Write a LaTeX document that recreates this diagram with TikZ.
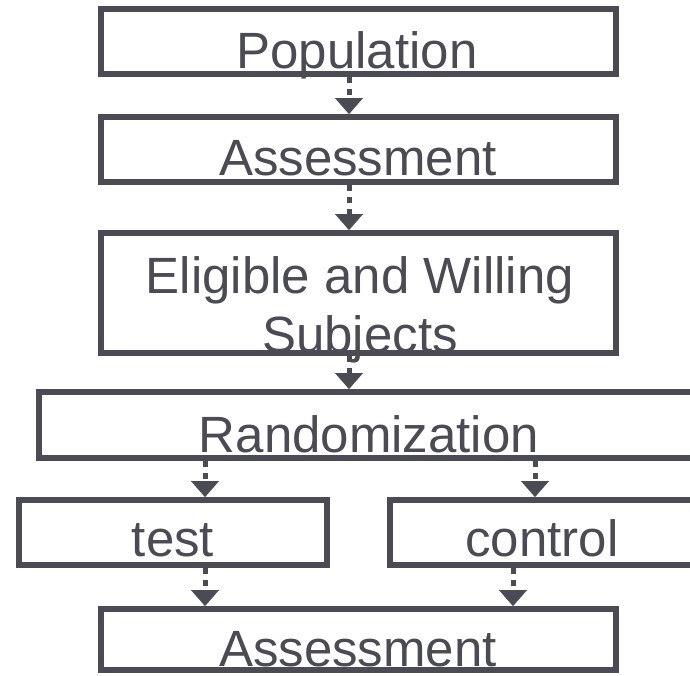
\documentclass[tikz,border=0pt]{standalone}
\usepackage{fontspec}
\setmainfont{Liberation Sans}
\usetikzlibrary{arrows.meta}
\definecolor{ink}{HTML}{4A4B55}
\begin{document}
\begin{tikzpicture}[x=1pt,y=-1pt,
  box/.style={draw=ink, line width=6pt, inner sep=0pt, minimum width=515pt, minimum height=65pt},
  label/.style={anchor=base, inner sep=0pt, text=ink, font=\fontsize{51}{59}\selectfont},
  conn/.style={draw=ink, line width=5pt, dash pattern=on 6pt off 6pt,
    -{Triangle[width=28pt,length=16pt,line width=0.1pt]}}]
\fill[white] (0,0) rectangle (690,675);
\useasboundingbox (0,0) rectangle (690,675);

% boxes
\node[box] (pop)  at (358.5,41.5) {};
\node[box] (as1)  at (358.5,149.5) {};
\node[box, minimum height=120pt] (elig) at (358.5,293) {};
\node[box, minimum width=661pt, minimum height=66pt] (rand) at (369.5,425) {};
\node[box, minimum width=308pt] (test) at (173,532.5) {};
\node[box, minimum width=304pt] (ctrl) at (542,532.5) {};
\node[box, minimum height=61pt] (as2) at (358.5,639.5) {};

% captions
\node[label] (tpop)  at (357,68) {Population};
\node[label] (tas1)  at (358,175) {Assessment};
\node[label] (telA)  at (360,293) {Eligible and Willing};
\node[label] (telB)  at (360,352) {Subjects};
\node[label] (trand) at (369,452) {Randomization};
\node[label] (ttest) at (173,556) {test};
\node[label] (tctrl) at (542,556) {control};
\node[label] (tas2)  at (358,666) {Assessment};

% columns of the connectors
\coordinate (cmid) at (349,0);
\coordinate (cleft) at (205,0);
\coordinate (cright) at (535,0);
\coordinate (cright2) at (513,0);

% connectors
\draw[conn] (pop.south -| cmid) -- (as1.north -| cmid);
\draw[conn] (as1.south -| cmid) -- (elig.north -| cmid);
\draw[conn] (elig.south -| cmid) -- (rand.north -| cmid);
\draw[conn] (rand.south -| cleft) -- (test.north -| cleft);
\draw[conn] (rand.south -| cright) -- (ctrl.north -| cright);
\draw[conn] (test.south -| cleft) -- (as2.north -| cleft);
\draw[conn] (ctrl.south -| cright2) -- (as2.north -| cright2);
\end{tikzpicture}
\end{document}
